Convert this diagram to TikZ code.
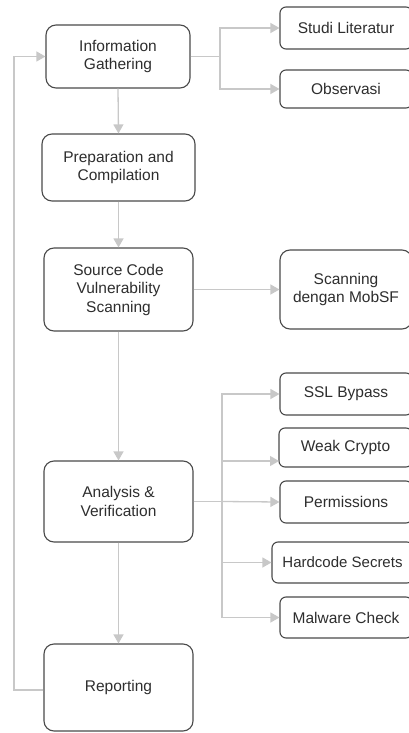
\documentclass[tikz,border=0pt]{standalone}
\usepackage{fontspec}
\setmainfont{Liberation Sans}
\usetikzlibrary{arrows.meta}
\definecolor{linegray}{HTML}{C8C8C8}
\definecolor{boxline}{HTML}{4A4A4A}
\definecolor{txt}{HTML}{2E2E2E}
\tikzset{
  box/.style={draw=boxline, line width=1.1pt, rounded corners=10pt, fill=white,
    text=txt, align=center, inner sep=0pt,
    font=\fontsize{15.5}{18.5}\selectfont},
  sbox/.style={box, rounded corners=6pt},
  conn/.style={draw=linegray, line width=1.3pt},
  arr/.style={conn, -{Triangle[length=9pt,width=10pt]}},
}
\begin{document}
\begin{tikzpicture}[x=1pt,y=-1pt]
\useasboundingbox (0,0) rectangle (408,733);
% main column
\node[box, minimum width=144pt, minimum height=63pt] (ig) at (118,56.5) {Information\\Gathering};
\node[box, minimum width=153pt, minimum height=67pt] (prep) at (118.5,167.5) {Preparation and\\Compilation};
\node[box, minimum width=149pt, minimum height=83pt] (scvs) at (118.5,289.5) {Source Code\\Vulnerability\\Scanning};
\node[box, minimum width=149pt, minimum height=81pt] (av) at (118.5,501.5) {Analysis \&\\Verification};
\node[box, minimum width=149pt, minimum height=87pt] (rep) at (118.5,687.5) {Reporting};
% right column
\node[sbox, minimum width=132pt, minimum height=42pt] (studi) at (346,28) {Studi Literatur};
\node[sbox, minimum width=132pt, minimum height=38pt] (obs) at (346,89) {Observasi};
\node[box, minimum width=132pt, minimum height=79pt] (mobsf) at (346,289.5) {Scanning\\dengan MobSF};
\node[sbox, minimum width=132pt, minimum height=42pt] (ssl) at (346,394) {SSL Bypass};
\node[sbox, minimum width=133pt, minimum height=39pt] (weak) at (345.5,447.5) {Weak Crypto};
\node[sbox, minimum width=132pt, minimum height=42pt] (perm) at (346,502) {Permissions};
\node[sbox, minimum width=141pt, minimum height=41pt, font=\fontsize{15}{18}\selectfont] (hard) at (342.5,562.5) {Hardcode Secrets};
\node[sbox, minimum width=132pt, minimum height=41pt] (mal) at (346,617.5) {Malware Check};
% junctions
\coordinate (j1) at (220,56.5);
\coordinate (j2) at (222,501.5);
\coordinate (fb) at (14,690);
\coordinate (weakin) at (279,461);
% connectors
\draw[conn] (ig.east) -- (j1);
\draw[arr] (j1) |- (studi.west);
\draw[arr] (j1) |- (obs.west);
\draw[arr] (ig.south) -- (prep.north);
\draw[arr] (prep.south) -- (scvs.north);
\draw[arr] (scvs.east) -- (scvs.east -| mobsf.west);
\draw[arr] (scvs.south) -- (av.north);
\draw[arr] (av.south) -- (rep.north);
\draw[conn] (av.east) -- (j2);
\draw[arr] (j2) |- (ssl.west);
\draw[arr] (j2) |- (weakin);
\draw[arr] (j2) -- (perm.west);
\draw[arr] (j2) |- (hard.west);
\draw[arr] (j2) |- (mal.west);
\draw[arr] (rep.west |- fb) -- (fb) |- (ig.west);
\end{tikzpicture}
\end{document}
